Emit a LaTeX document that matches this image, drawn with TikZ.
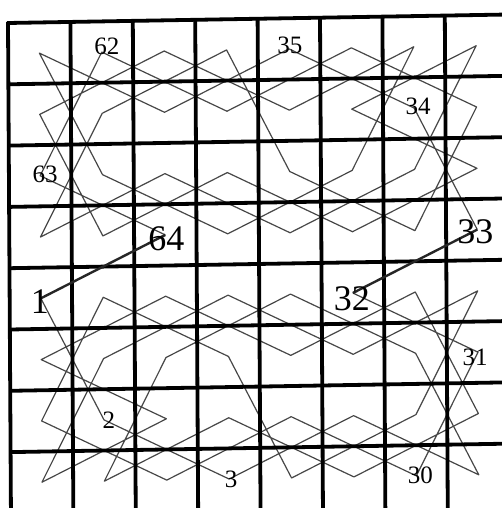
\documentclass[tikz,border=0pt]{standalone}
\usepackage{fontspec}
\setmainfont{Liberation Serif}
\begin{document}
\begin{tikzpicture}[x=0.5pt,y=-0.5pt,
  gridline/.style={line width=1.9pt,black},
  tourline/.style={line width=0.6pt,black!72,line join=round},
  bridge/.style={line width=1.2pt,black!85},
  smalllab/.style={font=\fontsize{12.5}{13}\selectfont,inner sep=0pt},
  biglab/.style={font=\fontsize{18}{19}\selectfont,inner sep=0pt}]
\useasboundingbox[fill=white] (0,0) rectangle (502,508);
\begin{scope}[shift={(8,23)},x={(0.5pt,0.0085pt)},y={(0.003pt,-0.5pt)}]
  % cell centres
  \foreach \r in {1,...,8} {
    \foreach \c in {1,...,8} {
      \coordinate (s\r\c) at (\c*62.4-31.2,\r*61.3-30.65);
    }
  }
  % knight's tour, lower half (1-32)
  \draw[tourline] (s51)--(s72)--(s84)--(s76)--(s88)--(s67)--(s55)--(s63)--(s82)--(s74)--(s86)--(s78)--(s57)--(s65)--(s53)--(s61)--(s73)--(s81)--(s62)--(s54)--(s66)--(s58)--(s77)--(s85)--(s64)--(s52)--(s71)--(s83)--(s75)--(s87)--(s68)--(s56);
  % knight's tour, upper half (33-64)
  \draw[tourline] (s48)--(s27)--(s15)--(s23)--(s11)--(s32)--(s44)--(s36)--(s17)--(s25)--(s13)--(s21)--(s42)--(s34)--(s46)--(s38)--(s26)--(s18)--(s37)--(s45)--(s33)--(s41)--(s22)--(s14)--(s35)--(s47)--(s28)--(s16)--(s24)--(s12)--(s31)--(s43);
  % board
  \foreach \k in {0,...,8} {
    \draw[gridline] (\k*62.4,-1) -- (\k*62.4,500);
  }
  \foreach \k in {0,...,7} {
    \draw[gridline] (-1,\k*61.3) -- (510,\k*61.3);
  }
  % joining moves
  \draw[bridge] (s56) -- (s48);
  \draw[bridge] (s43) -- (s51);
  % numbers
  \node[biglab]   (n1)  at ([shift={(-1,3)}]s51) {1};
  \node[smalllab] (n2)  at ([shift={(5,0)}]s72) {2};
  \node[smalllab] (n3)  at ([shift={(2,0)}]s84) {3};
  \node[smalllab] (n30) at ([shift={(4,0)}]s87) {30};
  \node[smalllab] (n31) at ([shift={(-3,5)}]s68) {31};
  \node[biglab]   (n32) at ([shift={(-1,6)}]s56) {32};
  \node[biglab]   (n33) at ([shift={(-2,2)}]s48) {33};
  \node[smalllab] (n34) at ([shift={(4,-2)}]s27) {34};
  \node[smalllab] (n35) at ([shift={(1,-4)}]s15) {35};
  \node[smalllab] (n62) at ([shift={(5,-6)}]s12) {62};
  \node[smalllab] (n63) at ([shift={(5,-1)}]s31) {63};
  \node[biglab]   (n64) at ([shift={(1,4)}]s43) {64};
\end{scope}
\end{tikzpicture}
\end{document}
